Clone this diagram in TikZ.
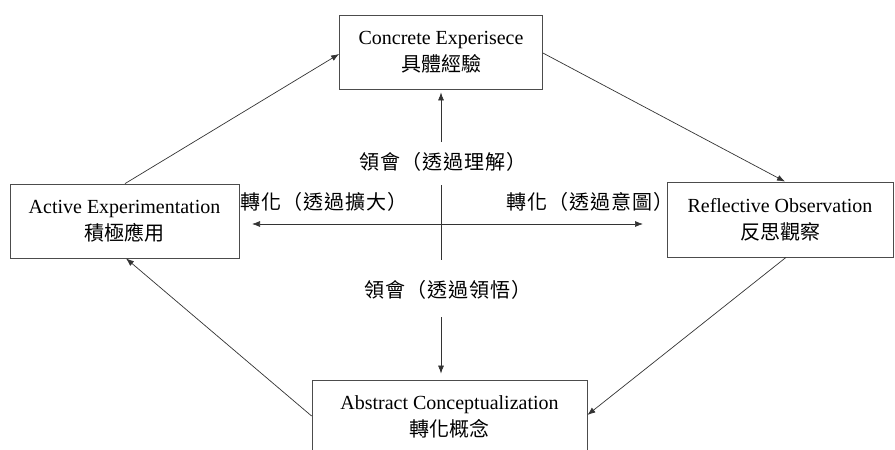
\documentclass[tikz,border=0pt]{standalone}
\usepackage{fontspec}
\setmainfont{Liberation Serif}
\newfontfamily\cjk{Noto Sans CJK TC}
\newfontfamily\cjklabel{Noto Sans CJK TC}[LetterSpace=5]
\usetikzlibrary{arrows.meta}

\begin{document}
\begin{tikzpicture}[x=1pt,y=-1pt,
  box/.style={draw=black!70, line width=0.8pt, rectangle, align=center,
    inner sep=0pt, font=\fontsize{20}{27}\selectfont},
  link/.style={draw=black!80, line width=0.7pt, -{Latex[length=8pt,width=6pt]}},
  plain/.style={draw=black!80, line width=0.7pt},
  lbl/.style={font=\cjklabel\fontsize{20}{24}\selectfont, inner sep=0pt}]
\useasboundingbox (0,0) rectangle (895,450);
\clip (0,0) rectangle (895,450);

% the four stages of the cycle
\node[box, minimum width=203pt, minimum height=74pt] (ce) at (441,52)
  {Concrete Experisece\\{\cjk 具體經驗}};
\node[box, minimum width=229pt, minimum height=74pt] (ae) at (124.5,221)
  {Active Experimentation\\{\cjk 積極應用}};
\node[box, minimum width=226pt, minimum height=75pt] (ro) at (780,219.5)
  {Reflective Observation\\{\cjk 反思觀察}};
\node[box, minimum width=275pt, minimum height=74pt] (ac) at (449.5,417)
  {Abstract Conceptualization\\{\cjk 轉化概念}};

% cycle arrows
\draw[link] ([xshift=0.5pt]ae.north) -- ([yshift=-2pt]ce.west);
\draw[link] ([yshift=-1pt]ce.east) -- ([xshift=5pt]ro.north);
\draw[link] ([xshift=6pt]ro.south) -- ([yshift=2pt]ac.east);
\draw[link] ([yshift=1pt]ac.west) -- ([xshift=1.5pt]ae.south);

% central cross
\coordinate (ut) at (441,142);
\coordinate (dt) at (441,317);
\coordinate (vt) at (441,185);
\coordinate (vb) at (441,260);
\coordinate (hl) at (252,224);
\coordinate (hr) at (643,224);
\draw[link, shorten >=3pt] (ut) -- (ce.south);
\draw[link, shorten >=6pt] (dt) -- (dt |- ac.north);
\draw[plain] (vt) -- (vb);
\draw[plain, {Latex[length=8pt,width=6pt]}-{Latex[length=8pt,width=6pt]}] (hl) -- (hr);

% labels of the two dimensions
\node[lbl] (l1) at (443,162) {領會（透過理解）};
\node[lbl] (l2) at (324,202) {轉化（透過擴大）};
\node[lbl] (l3) at (590,202) {轉化（透過意圖）};
\node[lbl] (l4) at (448,290) {領會（透過領悟）};
\end{tikzpicture}
\end{document}
